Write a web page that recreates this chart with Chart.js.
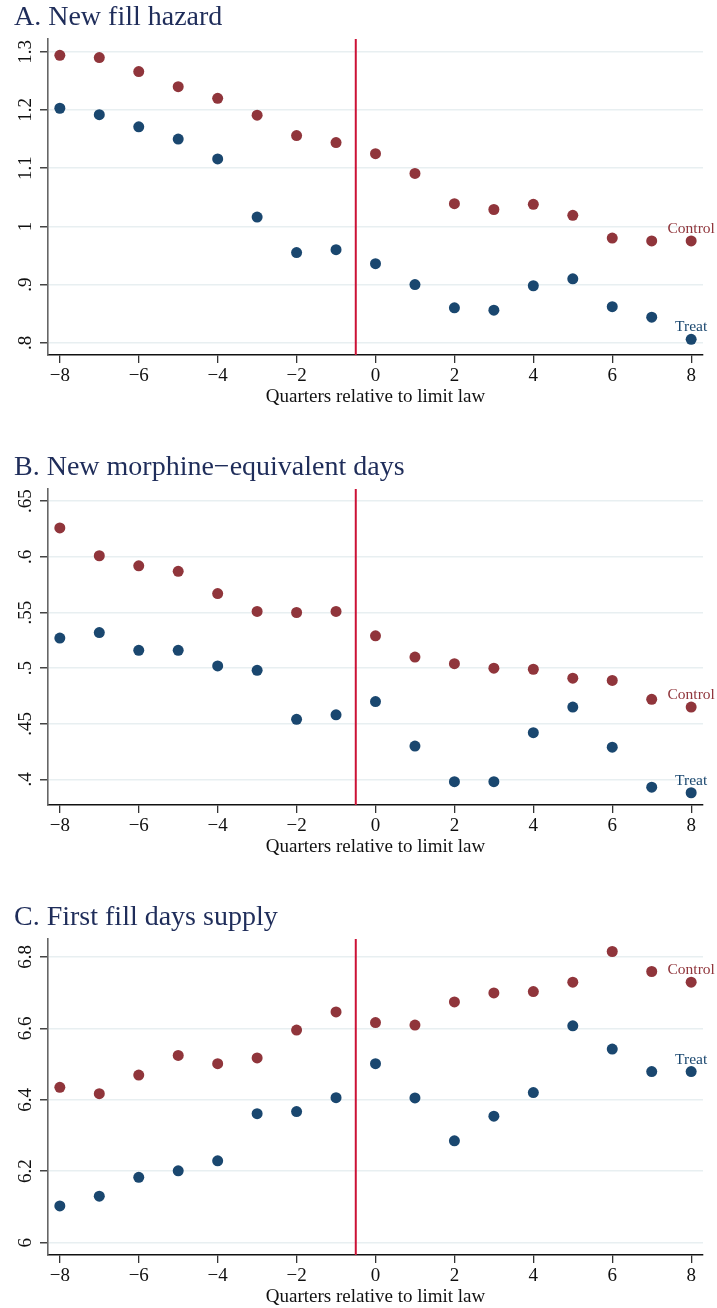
<!DOCTYPE html>
<html>
<head>
<meta charset="utf-8">
<script src="https://cdn.jsdelivr.net/npm/chart.js@4.4.0/dist/chart.umd.min.js"></script>
<style>
  body { margin: 0; background: #fff; }
  .panel { position: absolute; left: 0; }
  canvas { display: block; }
</style>
</head>
<body>
<div class="panel" style="top:0"><canvas id="panelA" width="717" height="408"></canvas></div>
<div class="panel" style="top:450px"><canvas id="panelB" width="717" height="408"></canvas></div>
<div class="panel" style="top:900px"><canvas id="panelC" width="717" height="408"></canvas></div>
<script>
// quarters relative to the limit law
const quarters = [-8, -7, -6, -5, -4, -3, -2, -1, 0, 1, 2, 3, 4, 5, 6, 7, 8];
const xTicks = [-8, -6, -4, -2, 0, 2, 4, 6, 8];
const xTickLabels = ["\u22128", "\u22126", "\u22124", "\u22122", "0", "2", "4", "6", "8"];
const lawQuarter = -0.5;

// A. New fill hazard
const hazardControl = [1.294, 1.290, 1.266, 1.240, 1.220, 1.191, 1.156, 1.144, 1.125, 1.091, 1.039, 1.029, 1.038, 1.019, 0.980, 0.975, 0.975];
const hazardTreat = [1.203, 1.192, 1.171, 1.150, 1.116, 1.016, 0.955, 0.960, 0.936, 0.900, 0.860, 0.856, 0.898, 0.910, 0.862, 0.844, 0.806];
const hazardTicks = [0.8, 0.9, 1.0, 1.1, 1.2, 1.3];
const hazardTickLabels = [".8", ".9", "1", "1.1", "1.2", "1.3"];

// B. New morphine-equivalent days
const medControl = [0.626, 0.601, 0.592, 0.587, 0.567, 0.551, 0.550, 0.551, 0.529, 0.510, 0.504, 0.500, 0.499, 0.491, 0.489, 0.472, 0.465];
const medTreat = [0.527, 0.532, 0.516, 0.516, 0.502, 0.498, 0.454, 0.458, 0.470, 0.430, 0.398, 0.398, 0.442, 0.465, 0.429, 0.393, 0.388];
const medTicks = [0.4, 0.45, 0.5, 0.55, 0.6, 0.65];
const medTickLabels = [".4", ".45", ".5", ".55", ".6", ".65"];

// C. First fill days supply
const supplyControl = [6.435, 6.417, 6.469, 6.524, 6.501, 6.517, 6.595, 6.646, 6.616, 6.609, 6.674, 6.699, 6.703, 6.729, 6.815, 6.759, 6.729];
const supplyTreat = [6.103, 6.130, 6.183, 6.201, 6.229, 6.361, 6.367, 6.406, 6.501, 6.405, 6.285, 6.354, 6.420, 6.607, 6.542, 6.479, 6.479];
const supplyTicks = [6, 6.2, 6.4, 6.6, 6.8];
const supplyTickLabels = ["6", "6.2", "6.4", "6.6", "6.8"];

const seriesNames = ["Control", "Treat"];
const CONTROL = "#90353b";
const TREAT = "#1a476f";
const SERIF = "'Liberation Serif', 'Times New Roman', serif";

Chart.defaults.font.family = SERIF;
Chart.defaults.color = "#111";

function makePanel(id, title, control, treat, yTicks, yLabels, yMin, yMax) {
  const pts = (vals) => quarters.map((q, i) => ({ x: q, y: vals[i] }));

  // y labels are drawn rotated, like Stata does
  const yLabelPlugin = {
    id: "yLabels",
    afterDraw(chart) {
      const ctx = chart.ctx;
      const y = chart.scales.y;
      ctx.save();
      ctx.font = "19px " + SERIF;
      ctx.fillStyle = "#111";
      ctx.textAlign = "center";
      ctx.textBaseline = "alphabetic";
      yTicks.forEach((v, i) => {
        ctx.save();
        ctx.translate(31, y.getPixelForValue(v));
        ctx.rotate(-Math.PI / 2);
        ctx.fillText(yLabels[i], 0, 0);
        ctx.restore();
      });
      ctx.restore();
    },
  };

  // "Control" / "Treat" above the last marker
  const endLabelPlugin = {
    id: "endLabels",
    afterDatasetsDraw(chart) {
      const ctx = chart.ctx;
      ctx.save();
      ctx.font = "15.5px " + SERIF;
      ctx.textAlign = "center";
      ctx.textBaseline = "alphabetic";
      [0, 1].forEach((d) => {
        const meta = chart.getDatasetMeta(d);
        const last = meta.data[meta.data.length - 1];
        ctx.fillStyle = chart.data.datasets[d].backgroundColor;
        ctx.fillText(seriesNames[d], last.x, last.y - 8);
      });
      ctx.restore();
    },
  };

  return new Chart(document.getElementById(id), {
    type: "scatter",
    data: {
      datasets: [
        { label: seriesNames[0], data: pts(control), backgroundColor: CONTROL, pointRadius: 5.5, borderWidth: 0 },
        { label: seriesNames[1], data: pts(treat), backgroundColor: TREAT, pointRadius: 5.5, borderWidth: 0 },
        {
          type: "line",
          data: [{ x: lawQuarter, y: yMin }, { x: lawQuarter, y: yMax }],
          borderColor: "#cc1236",
          borderWidth: 2,
          pointRadius: 0,
          showLine: true,
        },
      ],
    },
    options: {
      responsive: false,
      animation: false,
      events: [],
      layout: { padding: { left: 14, right: 14, top: 0, bottom: 0 } },
      plugins: {
        legend: { display: false },
        tooltip: { enabled: false },
        title: {
          display: true,
          text: title,
          align: "start",
          color: "#1f2d5a",
          font: { size: 28, weight: "normal", family: SERIF },
          padding: { top: 1, bottom: 4.4 },
        },
      },
      scales: {
        x: {
          type: "linear",
          min: -8.3,
          max: 8.3,
          afterBuildTicks: (s) => { s.ticks = xTicks.map((v) => ({ value: v })); },
          afterFit: (s) => { s.height = 53; },
          ticks: {
            autoSkip: false,
            maxRotation: 0,
            padding: 2,
            font: { size: 19 },
            color: "#111",
            callback: (v) => xTickLabels[xTicks.indexOf(v)],
          },
          grid: { drawOnChartArea: false, drawTicks: true, tickLength: 8, tickColor: "#333", lineWidth: 1.3 },
          border: { color: "#111", width: 1.6 },
          title: {
            display: true,
            text: "Quarters relative to limit law",
            font: { size: 19 },
            color: "#111",
            padding: { top: 0, bottom: 0 },
          },
        },
        y: {
          type: "linear",
          min: yMin,
          max: yMax,
          afterBuildTicks: (s) => { s.ticks = yTicks.map((v) => ({ value: v })); },
          afterFit: (s) => { s.width = 34; },
          ticks: { display: false },
          grid: { color: "#e8eff1", lineWidth: 1.5, drawTicks: true, tickLength: 8, tickColor: "#444" },
          border: { color: "#666", width: 1.6 },
        },
      },
    },
    plugins: [yLabelPlugin, endLabelPlugin],
  });
}

makePanel("panelA", "A. New fill hazard", hazardControl, hazardTreat, hazardTicks, hazardTickLabels, 0.779, 1.322);
makePanel("panelB", "B. New morphine\u2212equivalent days", medControl, medTreat, medTicks, medTickLabels, 0.377, 0.661);
makePanel("panelC", "C. First fill days supply", supplyControl, supplyTreat, supplyTicks, supplyTickLabels, 5.9655, 6.85);
</script>
</body>
</html>
